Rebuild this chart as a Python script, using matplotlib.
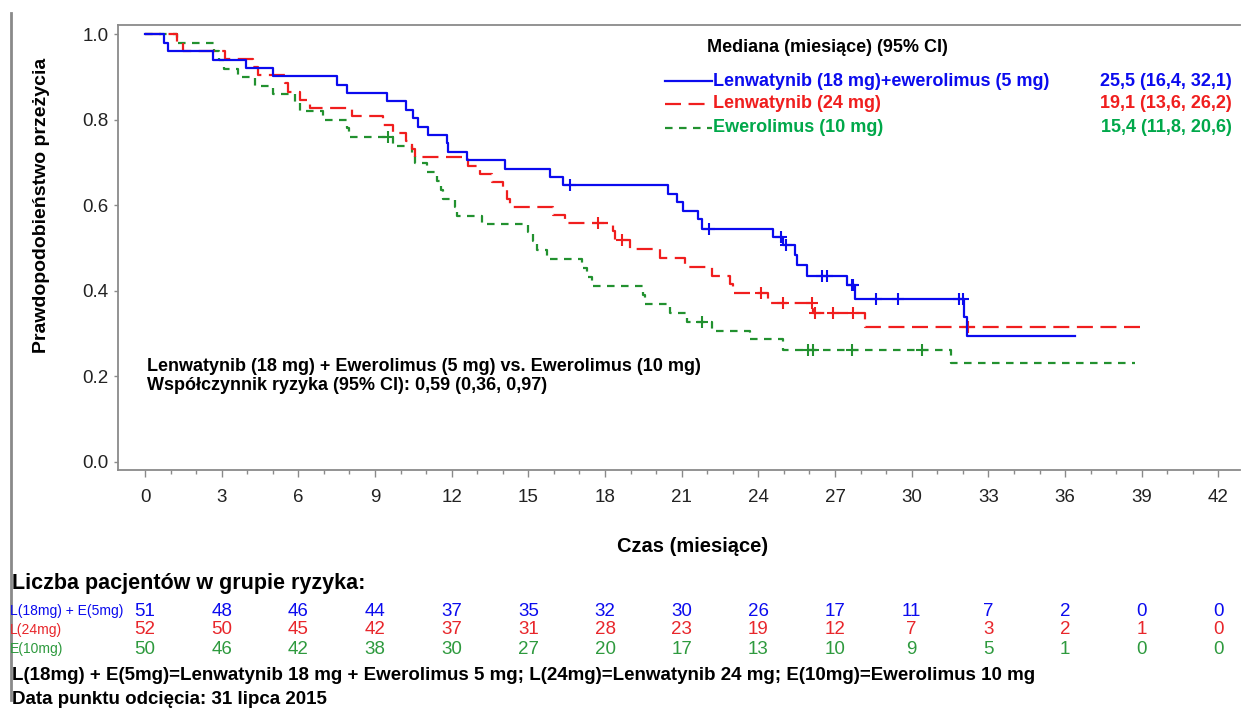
import numpy as np
import matplotlib
matplotlib.use("Agg")
import matplotlib.pyplot as plt
from matplotlib.transforms import blended_transform_factory
from matplotlib.lines import Line2D

plt.rcParams['font.family'] = ['Liberation Sans', 'DejaVu Sans']

# --- dane krzywych Kaplana-Meiera ---
# Lenwatynib 18 mg + ewerolimus 5 mg
lev_t = [0, 0.76, 0.9, 2.67, 3.95, 5.02, 7.5, 7.89, 9.45, 10.2, 10.5, 10.7, 11.08, 11.8, 11.87,
         12.58, 14.08, 15.85, 16.37, 20.47, 20.8, 21.06, 21.65, 21.78, 24.56, 24.98, 25.43,
         25.5, 25.9, 27.45, 27.78, 32.04, 32.17]
lev_s = [1.0, 0.980, 0.961, 0.941, 0.922, 0.902, 0.882, 0.863, 0.843, 0.824, 0.804, 0.784,
         0.765, 0.745, 0.725, 0.706, 0.686, 0.667, 0.647, 0.627, 0.608, 0.588, 0.567, 0.545,
         0.527, 0.507, 0.484, 0.461, 0.435, 0.414, 0.380, 0.340, 0.295]
lev_cens = [16.63, 22.08, 24.9, 25.1, 26.47, 26.67, 27.65, 27.7, 28.6, 29.47, 31.86, 31.99]
lev_end = 36.38

# Lenwatynib 24 mg
len_t = [0, 1.24, 1.47, 3.13, 4.24, 4.43, 5.48, 5.6, 6.06, 6.46, 8.09, 9.32, 9.72, 10.2, 10.45,
         10.56, 12.65, 13.1, 13.56, 14.02, 14.15, 14.28, 15.97, 16.43, 18.32, 18.4, 18.97, 20.15,
         21.13, 22.17, 22.9, 23.0, 24.38, 26.15, 28.17]
len_s = [1.0, 0.981, 0.962, 0.942, 0.923, 0.904, 0.885, 0.865, 0.846, 0.827, 0.808, 0.788,
         0.769, 0.750, 0.731, 0.712, 0.692, 0.673, 0.654, 0.635, 0.615, 0.596, 0.577, 0.558,
         0.539, 0.519, 0.497, 0.476, 0.455, 0.435, 0.416, 0.394, 0.371, 0.348, 0.316]
len_cens = [17.73, 18.67, 24.12, 24.97, 26.08, 26.21, 26.93, 27.71, 32.2]
len_end = 39.19

# Ewerolimus 10 mg
eve_t = [0, 1.24, 2.7, 2.9, 3.1, 3.65, 4.3, 5.02, 5.87, 6.07, 6.97, 7.9, 8.0, 9.72, 10.43, 10.56,
         11.02, 11.41, 11.6, 11.67, 12.13, 12.2, 13.17, 15.0, 15.2, 15.33, 15.71, 17.08, 17.3,
         17.48, 19.47, 19.55, 20.54, 21.19, 22.17, 23.67, 24.97, 31.52]
eve_s = [1.0, 0.98, 0.96, 0.94, 0.92, 0.90, 0.88, 0.86, 0.84, 0.82, 0.80, 0.78, 0.76, 0.739,
         0.718, 0.698, 0.677, 0.656, 0.636, 0.616, 0.596, 0.576, 0.557, 0.537, 0.517, 0.496,
         0.474, 0.453, 0.432, 0.411, 0.390, 0.369, 0.349, 0.328, 0.307, 0.287, 0.262, 0.231]
eve_cens = [9.52, 21.78, 25.95, 26.15, 27.65, 30.39]
eve_end = 38.73

# liczba pacjentów w grupie ryzyka
risk_times = [0, 3, 6, 9, 12, 15, 18, 21, 24, 27, 30, 33, 36, 39, 42]
risk_lev = [51, 48, 46, 44, 37, 35, 32, 30, 26, 17, 11, 7, 2, 0, 0]
risk_len = [52, 50, 45, 42, 37, 31, 28, 23, 19, 12, 7, 3, 2, 1, 0]
risk_eve = [50, 46, 42, 38, 30, 27, 20, 17, 13, 10, 9, 5, 1, 0, 0]

BLUE = '#0B0BEE'
RED = '#F01E1E'
GREEN = '#22912F'
GREEN_TXT = '#00A84A'

W, H = 1241, 711
fig = plt.figure(figsize=(W / 100, H / 100), dpi=100)
ax = fig.add_axes([0.0951, 0.339, 0.904, 0.6258])


def km(ax, t, s, cens, end, color, dashes=None):
    tt = list(t) + [end]
    ss = list(s) + [s[-1]]
    line, = ax.step(tt, ss, where='post', color=color, lw=1.6)
    if dashes:
        line.set_dashes(dashes)
    t_arr = np.array(t)
    s_arr = np.array(s)
    cy = [s_arr[np.searchsorted(t_arr, c, side='right') - 1] for c in cens]
    ax.plot(cens, cy, ls='none', marker='+', ms=8, mew=1.5, color=color)


km(ax, eve_t, eve_s, eve_cens, eve_end, GREEN, (3.4, 2.9))
km(ax, len_t, len_s, len_cens, len_end, RED, (7.2, 3.4))
km(ax, lev_t, lev_s, lev_cens, lev_end, BLUE)

ax.set_xlim(-1.056, 42.84)
ax.set_ylim(-0.0187, 1.0217)
ax.set_xticks(np.arange(0, 43, 3))
ax.set_xticks(np.arange(0, 43, 1), minor=True)
ax.set_yticks([0.0, 0.2, 0.4, 0.6, 0.8, 1.0])
ax.set_yticklabels(['0.0', '0.2', '0.4', '0.6', '0.8', '1.0'])
for side in ['left', 'bottom', 'top']:
    ax.spines[side].set_color('#8a8a8a')
    ax.spines[side].set_linewidth(1.3)
ax.spines['right'].set_visible(False)
ax.tick_params(axis='x', which='major', length=5, width=1, pad=9, colors='#8a8a8a',
               labelcolor='#222222', labelsize=13.5)
ax.tick_params(axis='x', which='minor', length=3, width=1, colors='#8a8a8a')
ax.tick_params(axis='y', length=3, width=1, pad=4, colors='#8a8a8a',
               labelcolor='#222222', labelsize=13.5)


def fx(px):
    return px / W


def fy(py):
    return 1 - py / H


fig.text(fx(693), fy(546), 'Czas (miesiące)', fontsize=14.5, fontweight='bold',
         ha='center', va='center')
fig.text(fx(42), fy(205), 'Prawdopodobieństwo przeżycia', fontsize=14, fontweight='bold',
         rotation=90, ha='center', va='center')

# adnotacja HR
fig.text(fx(147), fy(366), 'Lenwatynib (18 mg) + Ewerolimus (5 mg) vs. Ewerolimus (10 mg)',
         fontsize=13, fontweight='bold', va='center', ha='left')
fig.text(fx(147), fy(386), 'Współczynnik ryzyka (95% CI): 0,59 (0,36, 0,97)',
         fontsize=13, fontweight='bold', va='center', ha='left')

# legenda z medianami
fig.text(fx(707), fy(48), 'Mediana (miesiące) (95% CI)', fontsize=13,
         fontweight='bold', va='center', ha='left')
leg_rows = [
    ('Lenwatynib (18 mg)+ewerolimus (5 mg)', '25,5 (16,4, 32,1)', BLUE, BLUE, None),
    ('Lenwatynib (24 mg)', '19,1 (13,6, 26,2)', RED, RED, (7.2, 3.4)),
    ('Ewerolimus (10 mg)', '15,4 (11,8, 20,6)', GREEN, GREEN_TXT, (3.4, 2.9)),
]
leg_y = [81, 104, 128]
for (lab, med, lc, tc, dsh), yy in zip(leg_rows, leg_y):
    ln = Line2D([fx(665), fx(712)], [fy(yy), fy(yy)], transform=fig.transFigure,
                color=lc, lw=1.6)
    if dsh:
        ln.set_dashes(dsh)
    fig.add_artist(ln)
    fig.text(fx(713), fy(yy), lab, color=tc, fontsize=13, fontweight='bold',
             va='center', ha='left')
    fig.text(fx(1232), fy(yy), med, color=tc, fontsize=13, fontweight='bold',
             va='center', ha='right')

# tabela pacjentów w grupie ryzyka
tr = blended_transform_factory(ax.transData, fig.transFigure)
fig.text(fx(12), fy(583), 'Liczba pacjentów w grupie ryzyka:', fontsize=15.5,
         fontweight='bold', va='center', ha='left')
rows = [('L(18mg) + E(5mg)', risk_lev, BLUE, 611),
        ('L(24mg)', risk_len, '#E8262B', 630),
        ('E(10mg)', risk_eve, '#2E9A3E', 649)]
for lab, vals, col, yy in rows:
    fig.text(fx(10), fy(yy), lab, color=col, fontsize=10, va='center', ha='left')
    for t, v in zip(risk_times, vals):
        ax.text(t, fy(yy), str(v), color=col, fontsize=13.5, va='center', ha='center',
                transform=tr)

fig.text(fx(12), fy(676),
         'L(18mg) + E(5mg)=Lenwatynib 18 mg + Ewerolimus 5 mg; L(24mg)=Lenwatynib 24 mg; '
         'E(10mg)=Ewerolimus 10 mg', fontsize=13.5, fontweight='bold', va='center', ha='left')
fig.text(fx(12), fy(700), 'Data punktu odcięcia: 31 lipca 2015', fontsize=13.5,
         fontweight='bold', va='center', ha='left')

# szara linia po lewej stronie
fig.add_artist(Line2D([fx(11), fx(11)], [fy(13), fy(700)],
                      transform=fig.transFigure, color='#8a8a8a', lw=2))

fig.savefig('out.png', dpi=100)
